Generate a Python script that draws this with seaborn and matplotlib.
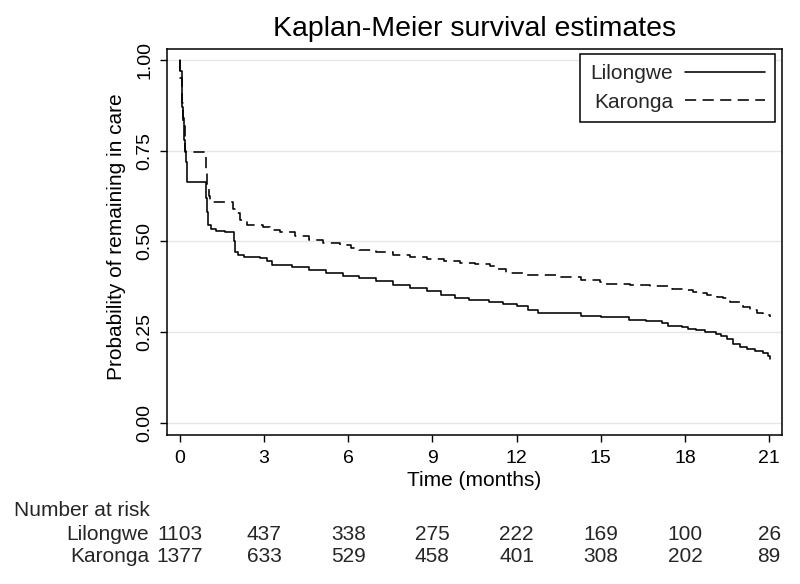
import matplotlib
matplotlib.use("Agg")
import matplotlib.pyplot as plt
import matplotlib.transforms as mtransforms
import seaborn as sns
import pandas as pd

# ---- data ----
lilongwe_t = [0, 0.02, 0.06, 0.09, 0.12, 0.14, 0.18, 0.21, 0.24, 0.93, 0.97, 1.01, 1.1, 1.3, 1.6,
              1.93, 1.97, 2.08, 2.3, 2.85, 3.1, 3.3, 4.0, 4.6, 5.2, 5.8, 6.4, 7.0, 7.6, 8.2, 8.8,
              9.3, 9.8, 10.3, 11.0, 11.5, 12.0, 12.4, 12.75, 13.9, 14.3, 15.0, 16.0, 16.6, 17.2,
              17.4, 17.9, 18.1, 18.4, 18.7, 19.1, 19.3, 19.5, 19.7, 19.95, 20.2, 20.5, 20.8,
              20.95, 21.03]
lilongwe_s = [1.0, 0.97, 0.93, 0.87, 0.84, 0.78, 0.75, 0.72, 0.665, 0.62, 0.58, 0.545, 0.535, 0.53,
              0.527, 0.5, 0.472, 0.463, 0.458, 0.454, 0.445, 0.436, 0.431, 0.422, 0.413, 0.405,
              0.398, 0.39, 0.381, 0.372, 0.363, 0.352, 0.345, 0.338, 0.333, 0.328, 0.322, 0.312,
              0.304, 0.302, 0.294, 0.291, 0.285, 0.28, 0.275, 0.268, 0.265, 0.259, 0.256, 0.25,
              0.245, 0.241, 0.23, 0.217, 0.208, 0.203, 0.199, 0.193, 0.185, 0.176]

karonga_t = [0, 0.02, 0.06, 0.12, 0.19, 0.93, 0.96, 1.03, 1.08, 1.9, 1.99, 2.14, 2.38, 2.97, 3.2,
             3.56, 4.1, 4.6, 5.1, 5.7, 6.1, 6.4, 7.0, 7.6, 8.2, 8.8, 9.4, 9.98, 10.5, 11.05, 11.3,
             11.64, 12.36, 13.55, 14.3, 14.98, 15.1, 16.04, 16.75, 17.29, 17.53, 18.06, 18.3,
             18.54, 18.78, 19.13, 19.37, 19.6, 19.84, 20.08, 20.32, 20.56, 20.8, 21.03]
karonga_s = [1.0, 0.95, 0.88, 0.82, 0.746, 0.70, 0.651, 0.625, 0.61, 0.59, 0.578, 0.559, 0.545,
             0.541, 0.532, 0.525, 0.515, 0.504, 0.497, 0.49, 0.483, 0.477, 0.47, 0.463, 0.457,
             0.451, 0.446, 0.442, 0.437, 0.432, 0.425, 0.414, 0.408, 0.402, 0.395, 0.389, 0.383,
             0.380, 0.378, 0.376, 0.370, 0.365, 0.362, 0.357, 0.353, 0.346, 0.343, 0.334, 0.332,
             0.320, 0.311, 0.302, 0.298, 0.293]

risk_times = [0, 3, 6, 9, 12, 15, 18, 21]
lilongwe_risk = [1103, 437, 338, 275, 222, 169, 100, 26]
karonga_risk = [1377, 633, 529, 458, 401, 308, 202, 89]

x_ticks = [0, 3, 6, 9, 12, 15, 18, 21]
y_ticks = [0.00, 0.25, 0.50, 0.75, 1.00]
y_ticklabels = ["0.00", "0.25", "0.50", "0.75", "1.00"]

title = "Kaplan-Meier survival estimates"
xlabel = "Time (months)"
ylabel = "Probability of remaining in care"
group_names = ["Lilongwe", "Karonga"]

# ---- style ----
sns.set_theme(style="white")
plt.rcParams["font.family"] = ["Liberation Sans", "DejaVu Sans"]

W, H = 800, 584
fig = plt.figure(figsize=(W / 100, H / 100), dpi=100)
ax = fig.add_axes([167 / W, 1 - 435 / H, (782 - 167) / W, (435 - 49) / H])

df_l = pd.DataFrame({"t": lilongwe_t, "s": lilongwe_s})
df_k = pd.DataFrame({"t": karonga_t, "s": karonga_s})

sns.lineplot(data=df_l, x="t", y="s", ax=ax, color="black", linewidth=1.15,
             drawstyle="steps-post", estimator=None, label=group_names[0], legend=False)
sns.lineplot(data=df_k, x="t", y="s", ax=ax, color="black", linewidth=1.15,
             linestyle=(0, (7, 4)), drawstyle="steps-post", estimator=None,
             label=group_names[1], legend=False)

ax.set_xlim(-0.46, 21.46)
ax.set_ylim(-0.033, 1.03)
ax.set_xticks(x_ticks)
ax.set_xticklabels([str(v) for v in x_ticks])
ax.set_yticks(y_ticks)
ax.set_yticklabels(y_ticklabels, rotation=90, va="center")

for yv in y_ticks:
    ax.axhline(yv, color="#e6e6e6", linewidth=1.0, zorder=0)

for sp in ax.spines.values():
    sp.set_visible(True)
    sp.set_color("black")
    sp.set_linewidth(1.1)

ax.tick_params(axis="both", which="major", direction="out", length=5, width=1.0,
               color="black", labelsize=14, labelcolor="black",
               bottom=True, left=True)
ax.tick_params(axis="x", pad=6)
ax.tick_params(axis="y", pad=5)

ax.set_title(title, fontsize=20.5, color="black", pad=9)

ax.set_xlabel(xlabel, fontsize=15, color="black")
ax.xaxis.set_label_coords(0.5, (435 - 480) / (435 - 49))
ax.xaxis.label.set_va("center")
ax.set_ylabel(ylabel, fontsize=15, color="black")
ax.yaxis.set_label_coords((117 - 167) / (782 - 167), (435 - 237) / (435 - 49))
ax.yaxis.label.set_va("center")

# legend: label first, line after, right-aligned labels
handles, labels = ax.get_legend_handles_labels()
leg = ax.legend(handles, labels, loc="upper right",
                bbox_to_anchor=(775 / W, 1 - 54 / H), bbox_transform=fig.transFigure,
                borderaxespad=0, markerfirst=False, fontsize=15, frameon=True,
                fancybox=False, framealpha=1, edgecolor="black", handlelength=3.8,
                handletextpad=0.6, labelspacing=0.45, borderpad=0.5)
leg.get_frame().set_linewidth(1.1)

# number at risk table
trans = mtransforms.blended_transform_factory(ax.transData, fig.transFigure)
fig.text(14 / W, 1 - 510 / H, "Number at risk", fontsize=15, ha="left", va="center")
rows = [(group_names[0], lilongwe_risk, 1 - 534 / H), (group_names[1], karonga_risk, 1 - 557 / H)]
for name, vals, yy in rows:
    fig.text(149 / W, yy, name, fontsize=15, ha="right", va="center")
    for tv, n in zip(risk_times, vals):
        ax.text(tv, yy, str(n), transform=trans, fontsize=15, ha="center", va="center",
                clip_on=False)

fig.savefig("out.png", dpi=100, facecolor="white")
